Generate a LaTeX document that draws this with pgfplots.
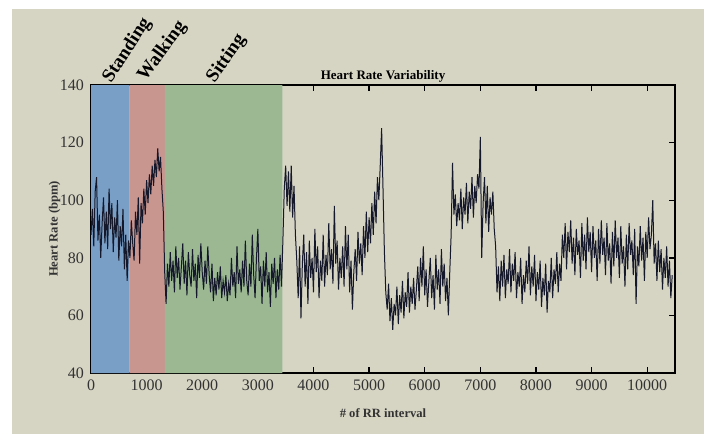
\documentclass[border=0pt]{standalone}
\usepackage{fontspec}
\setmainfont{Liberation Serif}
\usepackage{pgfplots}
\pgfplotsset{compat=1.18}
\definecolor{screen}{HTML}{D6D4C3}
\definecolor{standblue}{HTML}{7A9FC6}
\definecolor{walkred}{HTML}{C9968F}
\definecolor{sitgreen}{HTML}{9BB893}
\definecolor{hrline}{HTML}{15182A}
\definecolor{ticktext}{HTML}{333333}

\begin{document}
\begin{tikzpicture}
\useasboundingbox (0pt,0pt) rectangle (352pt,217pt);
\fill[white] (0pt,0pt) rectangle (352pt,217pt);
\fill[screen] (6pt,0pt) rectangle (352pt,212.5pt);
\begin{axis}[
  at={(45.5pt,30.5pt)}, anchor=south west,
  scale only axis, width=292pt, height=144pt,
  xmin=0, xmax=10500, ymin=40, ymax=140,
  xtick={0,1000,...,10000}, ytick={40,60,...,140},
  scaled x ticks=false,
  xticklabel style={/pgf/number format/1000 sep={}},
  tick align=inside, major tick length=3pt,
  tick style={black, line width=0.7pt},
  axis line style={black, line width=0.9pt},
  ticklabel style={font=\fontsize{8}{9}\selectfont, text=ticktext},
  /pgf/number format/assume math mode=true,
  xlabel={\# of RR interval},
  ylabel={Heart Rate (bpm)},
  label style={font=\bfseries\fontsize{6.3}{7}\selectfont, text=ticktext},
  xlabel style={yshift=-2pt},
  ylabel style={yshift=-7pt},
  title={Heart Rate Variability},
  title style={font=\bfseries\fontsize{6.5}{7}\selectfont, yshift=-8pt},
  clip=false,
]
\addplot[fill=standblue, draw=none] coordinates {(0,40) (0,140) (690,140) (690,40)} \closedcycle;
\addplot[fill=walkred, draw=none] coordinates {(690,40) (690,140) (1330,140) (1330,40)} \closedcycle;
\addplot[fill=sitgreen, draw=none] coordinates {(1330,40) (1330,140) (3440,140) (3440,40)} \closedcycle;
\addplot[color=hrline, line width=0.5pt] coordinates {
(0,88) (25,97) (50,84) (75,103) (100,108) (125,86) (150,95) (175,80) (200,92) (225,101)
(250,85) (275,96) (300,83) (325,104) (350,90) (375,99) (400,82) (425,94) (450,87) (475,100)
(500,79) (525,91) (550,84) (575,97) (600,76) (625,88) (650,72) (675,86)
(700,80) (725,93) (750,85) (775,79) (800,96) (825,88) (850,101) (875,78) (900,99) (925,92)
(950,104) (975,95) (1000,107) (1025,99) (1050,109) (1075,102) (1100,112) (1125,105) (1150,114) (1175,108)
(1200,118) (1225,110) (1250,115) (1275,104) (1300,96) (1325,75)
(1350,64) (1375,78) (1400,70) (1425,82) (1450,72) (1475,79) (1500,68) (1525,84) (1550,73) (1575,80)
(1600,69) (1625,77) (1650,85) (1675,71) (1700,79) (1725,67) (1750,82) (1775,74) (1800,70) (1825,83)
(1850,72) (1875,78) (1900,66) (1925,81) (1950,73) (1975,85) (2000,75) (2025,69) (2050,79) (2075,71)
(2100,84) (2125,74) (2150,68) (2175,78) (2200,65) (2225,73) (2250,67) (2275,75) (2300,69) (2325,77)
(2350,66) (2375,72) (2400,68) (2425,74) (2450,65) (2475,71) (2500,67) (2525,80) (2550,70) (2575,75)
(2600,66) (2625,84) (2650,71) (2675,76) (2700,68) (2725,79) (2750,70) (2775,86) (2800,72) (2825,67)
(2850,78) (2875,70) (2900,88) (2925,74) (2950,66) (2975,80) (3000,90) (3025,72) (3050,77) (3075,64)
(3100,79) (3125,70) (3150,82) (3175,68) (3200,75) (3225,63) (3250,78) (3275,71) (3300,80) (3325,66)
(3350,76) (3375,69) (3400,81) (3425,70) (3450,86)
(3475,104) (3500,112) (3525,98) (3550,110) (3575,96) (3600,112) (3625,94) (3650,105) (3675,88) (3700,79)
(3725,66) (3750,84) (3775,59) (3800,78) (3825,88) (3850,70) (3875,82) (3900,64) (3925,86) (3950,73)
(3975,80) (4000,68) (4025,90) (4050,75) (4075,84) (4100,66) (4125,79) (4150,72) (4175,88) (4200,70)
(4225,81) (4250,74) (4275,92) (4300,76) (4325,83) (4350,71) (4375,98) (4400,78) (4425,86) (4450,69)
(4475,80) (4500,73) (4525,84) (4550,70) (4575,91) (4600,76) (4625,88) (4650,68) (4675,79) (4700,62)
(4725,75) (4750,83) (4775,72) (4800,89) (4825,78) (4850,85) (4875,74) (4900,91) (4925,80) (4950,96)
(4975,82) (5000,94) (5025,85) (5050,99) (5075,88) (5100,103) (5125,92) (5150,108) (5175,100) (5200,112)
(5225,125) (5250,104) (5275,82) (5300,68) (5325,62) (5350,71) (5375,58) (5400,66) (5425,55) (5450,64)
(5475,60) (5500,70) (5525,57) (5550,67) (5575,61) (5600,72) (5625,59) (5650,68) (5675,63) (5700,75)
(5725,61) (5750,70) (5775,64) (5800,73) (5825,62) (5850,69) (5875,77) (5900,65) (5925,80) (5950,70)
(5975,84) (6000,67) (6025,76) (6050,63) (6075,72) (6100,80) (6125,66) (6150,74) (6175,62) (6200,81)
(6225,69) (6250,76) (6275,64) (6300,83) (6325,70) (6350,78) (6375,65) (6400,73) (6425,60) (6450,75)
(6475,88) (6500,113) (6525,95) (6550,102) (6575,91) (6600,99) (6625,93) (6650,104) (6675,90) (6700,101)
(6725,95) (6750,106) (6775,92) (6800,103) (6825,97) (6850,108) (6875,94) (6900,105) (6925,99) (6950,109)
(6975,104) (7000,122) (7025,80) (7050,99) (7075,108) (7100,92) (7125,105) (7150,89) (7175,101) (7200,95)
(7225,103) (7250,90) (7275,84) (7300,68) (7325,77) (7350,65) (7375,79) (7400,70) (7425,81) (7450,66)
(7475,76) (7500,71) (7525,83) (7550,68) (7575,78) (7600,72) (7625,82) (7650,66) (7675,75) (7700,70)
(7725,80) (7750,64) (7775,74) (7800,68) (7825,79) (7850,71) (7875,84) (7900,67) (7925,77) (7950,70)
(7975,81) (8000,65) (8025,75) (8050,69) (8075,79) (8100,63) (8125,73) (8150,67) (8175,78) (8200,61)
(8225,72) (8250,68) (8275,80) (8300,66) (8325,76) (8350,71) (8375,82) (8400,68) (8425,78) (8450,72)
(8475,88) (8500,80) (8525,92) (8550,76) (8575,89) (8600,82) (8625,93) (8650,78) (8675,87) (8700,74)
(8725,90) (8750,81) (8775,86) (8800,73) (8825,92) (8850,79) (8875,88) (8900,76) (8925,94) (8950,82)
(8975,89) (9000,75) (9025,91) (9050,80) (9075,86) (9100,72) (9125,90) (9150,78) (9175,93) (9200,81)
(9225,87) (9250,74) (9275,92) (9300,79) (9325,85) (9350,71) (9375,89) (9400,77) (9425,93) (9450,80)
(9475,87) (9500,73) (9525,91) (9550,78) (9575,84) (9600,70) (9625,88) (9650,76) (9675,92) (9700,81)
(9725,86) (9750,74) (9775,90) (9800,64) (9825,84) (9850,77) (9875,91) (9900,79) (9925,87) (9950,72)
(9975,89) (10000,80) (10025,94) (10050,83) (10075,88) (10100,100) (10125,78) (10150,85) (10175,72) (10200,86)
(10225,75) (10250,83) (10275,69) (10300,80) (10325,73) (10350,84) (10375,70) (10400,79) (10425,66) (10450,74)
};
\node[rotate=57, anchor=base west, inner sep=0pt, font=\bfseries\fontsize{9.5}{11}\selectfont]
  at (axis cs:360,140.5) {Standing};
\node[rotate=54, anchor=base west, inner sep=0pt, font=\bfseries\fontsize{9.5}{11}\selectfont]
  at (axis cs:980,141) {Walking};
\node[rotate=55, anchor=base west, inner sep=0pt, font=\bfseries\fontsize{9.5}{11}\selectfont]
  at (axis cs:2220,140.5) {Sitting};
\end{axis}
\end{tikzpicture}
\end{document}
